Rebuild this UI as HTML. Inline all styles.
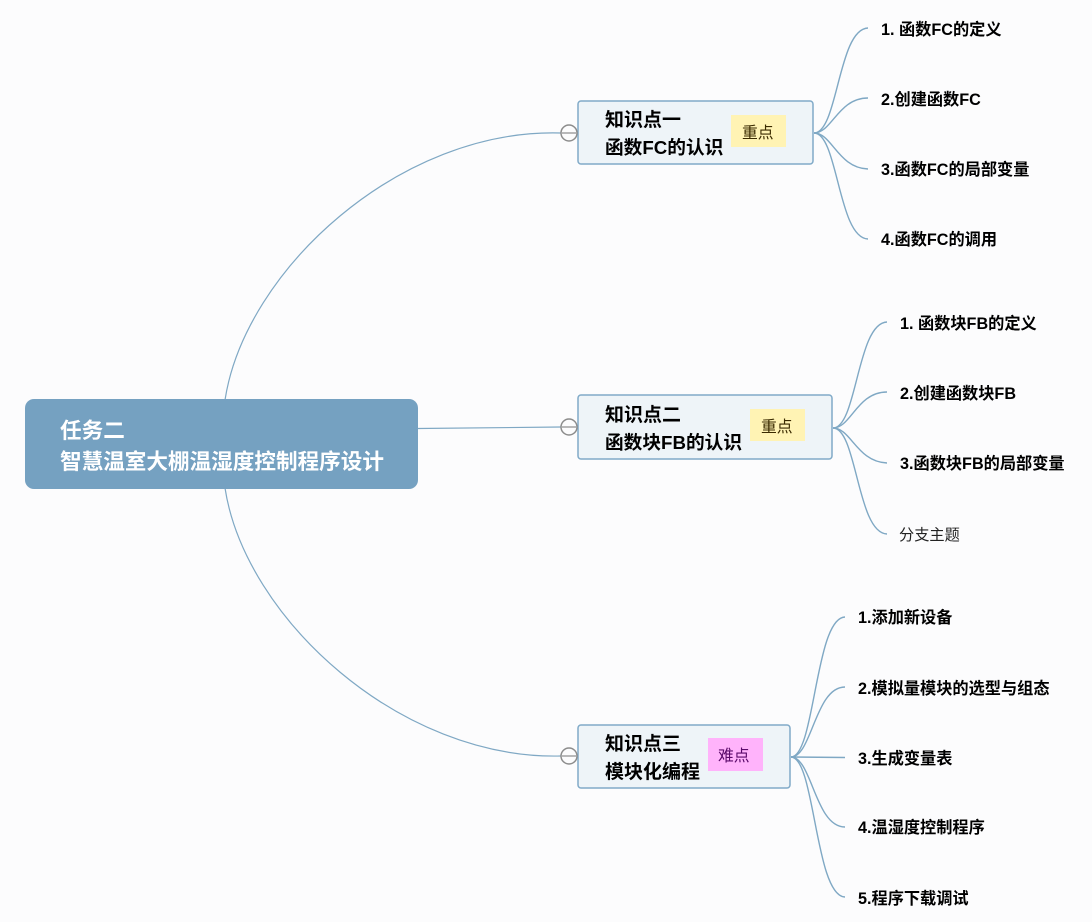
<!DOCTYPE html>
<html lang="zh-CN">
<head>
<meta charset="utf-8">
<style>
html,body{margin:0;padding:0;background:#fcfcfd;width:1092px;height:922px;overflow:hidden}
svg{display:block}
text{font-family:"Liberation Sans","Noto Sans CJK SC",sans-serif}
.c{fill:none;stroke:#7fa8c4;stroke-width:1.2}
.b{fill:none;stroke:#7fa8c4;stroke-width:1.4}
.n{fill:#eef4f8;stroke:#80aac8;stroke-width:1.5}
.h{font-size:18.7px;font-weight:700;fill:#000}
.j{font-size:19px;font-weight:700;fill:#000}
.l{font-size:16.200px;font-weight:700;fill:#000}
.t{font-size:15.800px;fill:#3a2a00}
.tog{fill:#fcfcfd;stroke:#8c8c8c;stroke-width:1.5}
</style>
</head>
<body>
<svg width="1092" height="922" viewBox="0 0 1092 922" xmlns="http://www.w3.org/2000/svg">
<rect width="1092" height="922" fill="#fcfcfd"/>

<path class="c" d="M225,400 C245,270 400,128 561,133"/>
<path class="c" d="M418,428.500 L561,427"/>
<path class="c" d="M225,488 C245,618 400,760 561,756"/>

<path class="b" d="M814,133 C838,133 838,29 868,28"/>
<path class="b" d="M814,133 C832,133 838,98 868,98"/>
<path class="b" d="M814,133 C832,133 838,168 868,169"/>
<path class="b" d="M814,133 C838,133 838,238 868,239"/>

<path class="b" d="M833,428 C857,428 857,323 887,322"/>
<path class="b" d="M833,428 C851,428 857,392 887,392"/>
<path class="b" d="M833,428 C851,428 857,462 887,463"/>
<path class="b" d="M833,428 C857,428 857,533 887,534"/>

<path class="b" d="M791,757 C815,757 815,618 845,617"/>
<path class="b" d="M791,757 C812,757 815,687 845,687"/>
<path class="b" d="M791,757 L845,757.500"/>
<path class="b" d="M791,757 C812,757 815,827 845,827"/>
<path class="b" d="M791,757 C815,757 815,896 845,897"/>

<rect x="25" y="399" width="393" height="90" rx="9" fill="#75a1c1"/>
<text x="60" y="438" font-size="21.600" font-weight="700" fill="#fff">任务二</text>
<text x="60" y="469" font-size="21.600" font-weight="700" fill="#fff">智慧温室大棚温湿度控制程序设计</text>

<rect class="n" x="578" y="101" width="235" height="63" rx="3"/>
<text class="j" x="605" y="126">知识点一</text>
<text class="h" x="605" y="154">函数FC的认识</text>
<rect x="731" y="115" width="55" height="32" fill="#fff3b4"/>
<text class="t" x="742" y="138">重点</text>
<circle class="tog" cx="569" cy="133" r="8"/>
<path d="M562,133 H576" stroke="#8c8c8c" stroke-width="1.2"/>

<rect class="n" x="578" y="395" width="254" height="64" rx="3"/>
<text class="j" x="605" y="421">知识点二</text>
<text class="h" x="605" y="449">函数块FB的认识</text>
<rect x="750" y="409" width="55" height="32" fill="#fff3b4"/>
<text class="t" x="761" y="432">重点</text>
<circle class="tog" cx="569" cy="427" r="8"/>
<path d="M562,427 H576" stroke="#8c8c8c" stroke-width="1.2"/>

<rect class="n" x="578" y="725" width="212" height="63" rx="3"/>
<text class="j" x="605" y="750">知识点三</text>
<text class="j" x="605" y="778">模块化编程</text>
<rect x="708" y="738" width="55" height="33" fill="#ffb3fb"/>
<text class="t" x="718" y="761" style="fill:#5a0a6a">难点</text>
<circle class="tog" cx="569" cy="756" r="8"/>
<path d="M562,756 H576" stroke="#8c8c8c" stroke-width="1.2"/>

<text class="l" x="881" y="35">1. 函数FC的定义</text>
<text class="l" x="881" y="105">2.创建函数FC</text>
<text class="l" x="881" y="175">3.函数FC的局部变量</text>
<text class="l" x="881" y="245">4.函数FC的调用</text>

<text class="l" x="900" y="329">1. 函数块FB的定义</text>
<text class="l" x="900" y="399">2.创建函数块FB</text>
<text class="l" x="900" y="469">3.函数块FB的局部变量</text>
<text x="899" y="540" font-size="15.200" fill="#222">分支主题</text>

<text class="l" x="858" y="623">1.添加新设备</text>
<text class="l" x="858" y="694">2.模拟量模块的选型与组态</text>
<text class="l" x="858" y="764">3.生成变量表</text>
<text class="l" x="858" y="833">4.温湿度控制程序</text>
<text class="l" x="858" y="904">5.程序下载调试</text>
</svg>
</body>
</html>
